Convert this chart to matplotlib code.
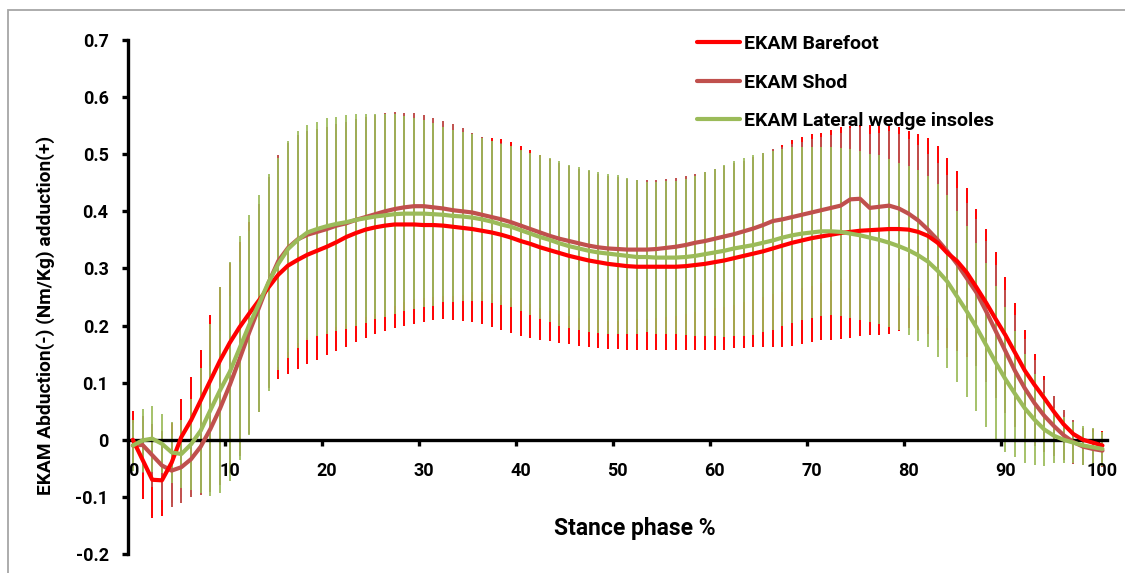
import matplotlib
matplotlib.use("Agg")
import matplotlib.pyplot as plt
import numpy as np
from matplotlib.patches import Rectangle
from matplotlib.ticker import FixedLocator, NullFormatter

# Stance phase (% of stance), one sample per percent
stance = list(range(101))

# External knee adduction moment (Nm/Kg): group means and standard deviations
barefoot_mean = [
    0.000, -0.035, -0.070, -0.071, -0.040, 0.005, 0.034, 0.069, 0.104, 0.139,
    0.170, 0.197, 0.221, 0.244, 0.267, 0.289, 0.305, 0.315, 0.324, 0.331,
    0.338, 0.346, 0.355, 0.362, 0.368, 0.372, 0.375, 0.377, 0.377, 0.377,
    0.376, 0.376, 0.375, 0.373, 0.371, 0.369, 0.366, 0.363, 0.359, 0.354,
    0.348, 0.343, 0.337, 0.332, 0.327, 0.322, 0.318, 0.314, 0.311, 0.308,
    0.306, 0.304, 0.303, 0.303, 0.303, 0.303, 0.303, 0.304, 0.306, 0.308,
    0.311, 0.314, 0.318, 0.322, 0.326, 0.330, 0.335, 0.340, 0.345, 0.349,
    0.353, 0.356, 0.359, 0.362, 0.364, 0.366, 0.367, 0.368, 0.369, 0.369,
    0.368, 0.364, 0.357, 0.345, 0.327, 0.313, 0.293, 0.267, 0.240, 0.211,
    0.183, 0.152, 0.121, 0.096, 0.073, 0.049, 0.027, 0.010, 0.000, -0.005,
    -0.010,
]
barefoot_sd = [
    0.050, 0.069, 0.067, 0.062, 0.070, 0.067, 0.076, 0.088, 0.114, 0.129,
    0.140, 0.150, 0.160, 0.168, 0.175, 0.182, 0.190, 0.191, 0.191, 0.191,
    0.190, 0.191, 0.192, 0.191, 0.190, 0.186, 0.184, 0.182, 0.178, 0.174,
    0.170, 0.167, 0.164, 0.164, 0.163, 0.163, 0.164, 0.166, 0.167, 0.167,
    0.166, 0.164, 0.162, 0.159, 0.157, 0.155, 0.154, 0.152, 0.150, 0.149,
    0.147, 0.147, 0.146, 0.146, 0.146, 0.146, 0.146, 0.147, 0.149, 0.151,
    0.154, 0.157, 0.158, 0.161, 0.164, 0.168, 0.172, 0.177, 0.180, 0.181,
    0.182, 0.182, 0.184, 0.185, 0.185, 0.185, 0.184, 0.184, 0.183, 0.179,
    0.173, 0.172, 0.171, 0.170, 0.167, 0.158, 0.148, 0.137, 0.129, 0.118,
    0.102, 0.087, 0.072, 0.055, 0.038, 0.027, 0.022, 0.020, 0.021, 0.024,
    0.026,
]
shod_mean = [
    -0.010, -0.009, -0.027, -0.045, -0.054, -0.048, -0.034, -0.012, 0.019, 0.055,
    0.096, 0.141, 0.188, 0.231, 0.275, 0.313, 0.336, 0.351, 0.359, 0.364,
    0.369, 0.375, 0.379, 0.385, 0.390, 0.395, 0.400, 0.404, 0.407, 0.409,
    0.409, 0.407, 0.405, 0.402, 0.400, 0.398, 0.394, 0.390, 0.386, 0.381,
    0.375, 0.369, 0.363, 0.357, 0.352, 0.348, 0.344, 0.340, 0.337, 0.335,
    0.334, 0.333, 0.333, 0.333, 0.334, 0.336, 0.338, 0.341, 0.345, 0.348,
    0.352, 0.356, 0.360, 0.365, 0.370, 0.376, 0.383, 0.386, 0.390, 0.394,
    0.398, 0.402, 0.406, 0.410, 0.421, 0.422, 0.406, 0.408, 0.410, 0.405,
    0.396, 0.384, 0.368, 0.350, 0.330, 0.308, 0.283, 0.258, 0.225, 0.190,
    0.155, 0.120, 0.090, 0.064, 0.042, 0.024, 0.008, -0.004, -0.012, -0.016,
    -0.019,
]
shod_sd = [
    0.040, 0.050, 0.055, 0.060, 0.064, 0.063, 0.067, 0.085, 0.110, 0.135,
    0.155, 0.170, 0.178, 0.182, 0.185, 0.185, 0.183, 0.182, 0.181, 0.180,
    0.179, 0.178, 0.177, 0.176, 0.175, 0.174, 0.172, 0.170, 0.166, 0.163,
    0.160, 0.157, 0.154, 0.151, 0.146, 0.139, 0.136, 0.134, 0.133, 0.132,
    0.131, 0.131, 0.132, 0.132, 0.132, 0.132, 0.131, 0.130, 0.128, 0.127,
    0.126, 0.124, 0.122, 0.121, 0.121, 0.121, 0.121, 0.121, 0.121, 0.121,
    0.122, 0.123, 0.124, 0.124, 0.125, 0.126, 0.127, 0.127, 0.128, 0.128,
    0.128, 0.128, 0.128, 0.128, 0.125, 0.125, 0.130, 0.130, 0.130, 0.130,
    0.131, 0.132, 0.133, 0.134, 0.134, 0.133, 0.131, 0.128, 0.123, 0.116,
    0.108, 0.098, 0.087, 0.075, 0.063, 0.052, 0.044, 0.038, 0.033, 0.030,
    0.028,
]
wedge_mean = [
    -0.010, -0.001, 0.002, -0.007, -0.022, -0.025, -0.008, 0.016, 0.052, 0.087,
    0.119, 0.160, 0.201, 0.238, 0.276, 0.308, 0.334, 0.350, 0.363, 0.369,
    0.374, 0.378, 0.381, 0.385, 0.388, 0.391, 0.393, 0.395, 0.396, 0.396,
    0.396, 0.395, 0.394, 0.392, 0.391, 0.389, 0.386, 0.382, 0.377, 0.373,
    0.367, 0.361, 0.355, 0.350, 0.344, 0.339, 0.335, 0.331, 0.328, 0.326,
    0.324, 0.322, 0.320, 0.320, 0.319, 0.319, 0.319, 0.320, 0.322, 0.325,
    0.328, 0.331, 0.335, 0.338, 0.341, 0.345, 0.349, 0.354, 0.358, 0.361,
    0.363, 0.365, 0.365, 0.364, 0.361, 0.358, 0.354, 0.350, 0.345, 0.339,
    0.332, 0.323, 0.312, 0.296, 0.277, 0.251, 0.225, 0.197, 0.166, 0.135,
    0.106, 0.080, 0.055, 0.035, 0.018, 0.007, 0.000, -0.005, -0.010, -0.013,
    -0.016,
]
wedge_sd = [
    0.045, 0.055, 0.058, 0.052, 0.053, 0.060, 0.080, 0.110, 0.150, 0.180,
    0.192, 0.196, 0.192, 0.190, 0.190, 0.186, 0.190, 0.190, 0.188, 0.188,
    0.189, 0.188, 0.187, 0.185, 0.183, 0.180, 0.178, 0.175, 0.171, 0.167,
    0.164, 0.160, 0.153, 0.151, 0.148, 0.146, 0.143, 0.142, 0.141, 0.141,
    0.141, 0.142, 0.143, 0.144, 0.144, 0.143, 0.143, 0.142, 0.141, 0.140,
    0.139, 0.137, 0.135, 0.132, 0.133, 0.134, 0.134, 0.137, 0.140, 0.143,
    0.147, 0.151, 0.154, 0.156, 0.157, 0.157, 0.156, 0.155, 0.154, 0.152,
    0.150, 0.148, 0.147, 0.147, 0.148, 0.148, 0.147, 0.148, 0.147, 0.146,
    0.148, 0.150, 0.150, 0.151, 0.152, 0.150, 0.150, 0.147, 0.143, 0.135,
    0.127, 0.111, 0.096, 0.080, 0.064, 0.048, 0.040, 0.036, 0.034, 0.033,
    0.030,
]

series_labels = ["EKAM Barefoot", "EKAM Shod", "EKAM Lateral wedge insoles"]
x_label_positions = [0, 10, 20, 30, 40, 50, 60, 70, 80, 90, 100]
x_tick_labels = ["0", "10", "20", "30", "40", "50", "60", "70", "80", "90", "100"]
y_ticks = [-0.2, -0.1, 0.0, 0.1, 0.2, 0.3, 0.4, 0.5, 0.6, 0.7]
y_tick_labels = ["-0.2", "-0.1", "0", "0.1", "0.2", "0.3", "0.4", "0.5", "0.6", "0.7"]

RED = "#FF0000"
BROWN = "#C0504D"
GREEN = "#9BBB59"

plt.rcParams["font.family"] = ["Roboto", "DejaVu Sans"]
plt.rcParams["font.weight"] = "bold"

W, H = 1125, 573
fig = plt.figure(figsize=(W / 100, H / 100), dpi=100)
ax = fig.add_axes([128 / W, 19 / H, 979.3 / W, 514 / H])

x = np.array(stance)
bf_m, bf_s = np.array(barefoot_mean), np.array(barefoot_sd)
sh_m, sh_s = np.array(shod_mean), np.array(shod_sd)
lw_m, lw_s = np.array(wedge_mean), np.array(wedge_sd)

# standard deviation bars, one per percent of stance
ax.vlines(x, bf_m - bf_s, bf_m + bf_s, color=RED, lw=1.4, zorder=1)
ax.vlines(x, sh_m - sh_s, sh_m + sh_s, color=BROWN, lw=1.4, zorder=1.1)
ax.vlines(x, lw_m - lw_s, lw_m + lw_s, color=GREEN, lw=1.4, alpha=0.9, zorder=1.2)

# mean curves
l_sh, = ax.plot(x, sh_m, color=BROWN, lw=3.0, solid_capstyle="round",
                solid_joinstyle="round", zorder=3, label=series_labels[1])
l_bf, = ax.plot(x, bf_m, color=RED, lw=3.0, solid_capstyle="round",
                solid_joinstyle="round", zorder=3.1, label=series_labels[0])
l_lw, = ax.plot(x, lw_m, color=GREEN, lw=3.0, solid_capstyle="round",
                solid_joinstyle="round", zorder=3.2, label=series_labels[2])

ax.set_xlim(-0.5, 100.5)
ax.set_ylim(-0.2, 0.7)

# axes: left spine full height, horizontal axis crossing at zero
for side in ("top", "right"):
    ax.spines[side].set_visible(False)
ax.spines["bottom"].set_position(("data", 0))
ax.spines["left"].set_linewidth(2.4)
ax.spines["bottom"].set_linewidth(2.4)

# x ticks sit between categories, labels centred on the categories
ax.xaxis.set_major_locator(FixedLocator([p - 0.5 for p in x_label_positions[1:]]))
ax.xaxis.set_major_formatter(NullFormatter())
ax.xaxis.set_minor_locator(FixedLocator(x_label_positions))
ax.set_xticklabels(x_tick_labels, minor=True)
ax.tick_params(axis="x", which="major", direction="out", length=4, width=2.4)
ax.tick_params(axis="x", which="minor", length=0, pad=16, labelsize=13)

ax.set_yticks(y_ticks)
ax.set_yticklabels(y_tick_labels)
ax.tick_params(axis="y", direction="out", length=4, width=2.4, pad=10, labelsize=13)

for lab in ax.get_xticklabels(minor=True) + ax.get_yticklabels():
    lab.set_fontweight("bold")

ax.set_xlabel("Stance phase %", fontsize=16.5, fontweight="bold", va="center")
ax.xaxis.set_label_coords((635 - 128) / 979.3, (554 - 528) / 514)
ax.set_ylabel("EKAM Abduction(-) (Nm/Kg) adduction(+)", fontsize=13.8,
              fontweight="bold", va="center")
ax.yaxis.set_label_coords((46 - 128) / 979.3, (554 - 315) / 514)

leg = ax.legend(handles=[l_bf, l_sh, l_lw], loc="upper left",
                bbox_to_anchor=(697 / W, 1 - 35 / H), bbox_transform=fig.transFigure,
                frameon=False, borderpad=0, borderaxespad=0, handlelength=2.2,
                handletextpad=0.22, labelspacing=1.06,
                prop={"size": 14, "weight": "bold"})

# chart area border
fig.add_artist(Rectangle((8 / W, -0.1), 1.2, 1.1 - 10 / H, transform=fig.transFigure,
                         fill=False, ec="#A6A6A6", lw=1.3))

fig.savefig("out.png", dpi=100)
